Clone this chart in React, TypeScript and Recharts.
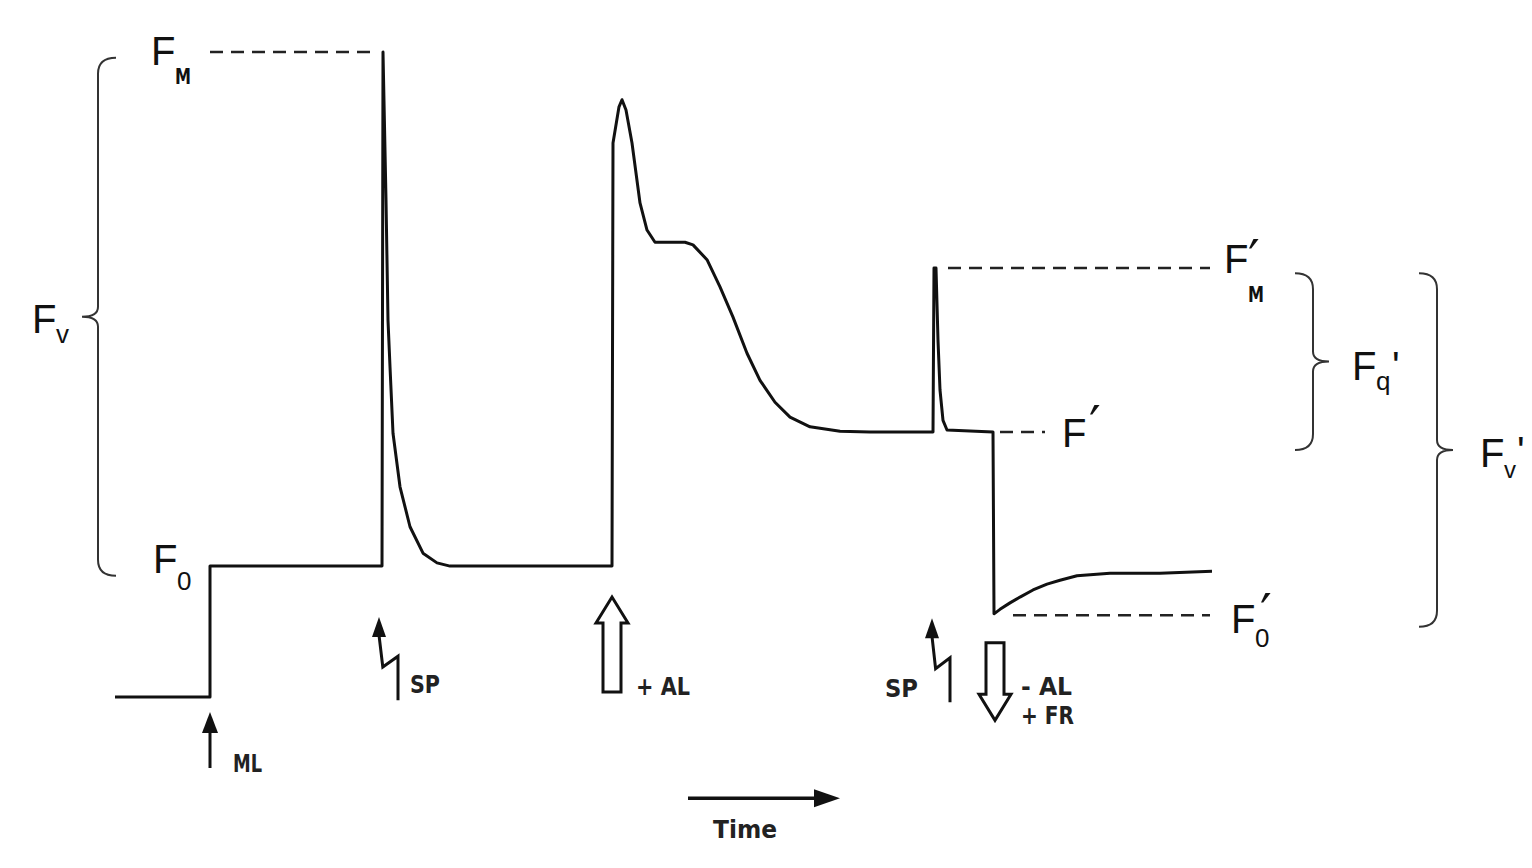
import { LineChart, Line, XAxis, YAxis, ReferenceLine, ReferenceDot } from "recharts";

// Chlorophyll fluorescence trace (time in arbitrary units, fluorescence relative to FM = 100)
const TRACE: [number, number][] = [
  [0, 0], [9.5, 0], [9.5, 20.3], [26.7, 20.3],
  // saturating pulse 1
  [26.8, 100], [27.1, 77.1], [27.3, 58.4], [27.5, 51.2], [27.8, 40.9], [28.5, 32.6],
  [29.5, 26.4], [30.8, 22.3], [32.2, 20.8], [33.5, 20.3], [49.7, 20.3],
  // actinic light on
  [49.8, 85.9], [50.4, 91.5], [50.7, 92.6], [51.1, 91.0], [51.7, 85.9], [52.5, 76.6],
  [53.2, 72.4], [54.0, 70.5], [57.0, 70.5], [57.8, 70.1], [59.2, 67.8], [60.5, 63.6],
  [61.8, 58.9], [63.2, 53.3], [64.5, 49.1], [66.0, 45.7], [67.5, 43.4], [69.5, 41.9],
  [72.5, 41.2], [75.5, 41.1], [81.8, 41.1],
  // saturating pulse 2
  [81.9, 66.5], [82.1, 66.5], [82.3, 55.3], [82.5, 47.6], [82.8, 42.9], [83.2, 41.4],
  [87.8, 41.1],
  // actinic off, far red on
  [87.9, 12.9], [88.5, 13.6], [89.5, 14.6], [90.5, 15.5], [91.8, 16.6], [93.2, 17.5],
  [94.5, 18.1], [96.2, 18.8], [99.5, 19.2], [104.5, 19.2], [109.7, 19.5],
];

const T_DOMAIN = [-11.5, 141.7];
const F_DOMAIN = [-26.5, 108.06];

// dashed level markers: [from, to, level]
const LEVELS: [number, number, number][] = [
  [9.5, 26.0, 100],
  [83.3, 109.5, 66.5],
  [88.5, 93.0, 41.1],
  [89.8, 109.5, 12.7],
];

// braces: [time, top, bottom, direction of tip]
const BRACES: [number, number, number, number][] = [
  [-1.7, 99.1, 18.8, -1],
  [119.8, 65.7, 38.3, 1],
  [132.2, 65.7, 10.9, 1],
];

// symbol labels
const SYMBOLS = [
  { t: 3.6, f: 98.0, sub: "M", subDx: 24, subDy: 19, subSize: 22, bold: true, prime: "", pDx: 0, pDy: 0 },
  { t: 3.8, f: 19.2, sub: "0", subDx: 24, subDy: 17, subSize: 26, bold: false, prime: "", pDx: 0, pDy: 0 },
  { t: -8.3, f: 56.4, sub: "v", subDx: 24, subDy: 10, subSize: 26, bold: false, prime: "", pDx: 0, pDy: 0 },
  { t: 94.7, f: 38.8, sub: "", subDx: 0, subDy: 0, subSize: 26, bold: false, prime: "′", pDx: 27, pDy: -4 },
  { t: 110.9, f: 65.7, sub: "M", subDx: 24, subDy: 29, subSize: 22, bold: true, prime: "′", pDx: 24, pDy: 4 },
  { t: 111.6, f: 9.9, sub: "0", subDx: 24, subDy: 14, subSize: 26, bold: false, prime: "′", pDx: 29, pDy: -2 },
  { t: 123.7, f: 49.1, sub: "q", subDx: 24, subDy: 10, subSize: 26, bold: false, prime: "'", pDx: 40, pDy: 0 },
  { t: 136.5, f: 35.7, sub: "v", subDx: 24, subDy: 11, subSize: 24, bold: false, prime: "'", pDx: 37, pDy: -2 },
];

// small text labels: [time, fluorescence, text, anchor, width]
const NOTES: [number, number, string, string, number][] = [
  [11.8, -11.6, "ML", "start", 29],
  [29.5, 0.6, "SP", "start", 30],
  [52.1, 0.3, "+ AL", "start", 54],
  [77.0, 0.0, "SP", "start", 33],
  [90.6, 0.3, "- AL", "start", 51],
  [90.6, -4.2, "+ FR", "start", 53],
  [63.0, -21.9, "Time", "middle", 64],
];

// arrows: [t1, f1, t2, f2] tail -> tip
const ML_ARROW = [9.5, -11.0, 9.5, -2.3];
const TIME_ARROW = [57.3, -15.7, 72.5, -15.7];
const SP_ARROWS = [
  [28.3, -0.5, 26.4, 12.4],
  [83.5, -0.8, 81.7, 12.2],
];
const HOLLOW_ARROWS = [
  [49.7, 0.8, 49.7, 15.5],
  [88.0, 8.4, 88.0, -3.6],
];

const BIG_FONT = '"Liberation Sans", Arial, sans-serif';
const BOLD_FONT = '"DejaVu Sans", "Liberation Sans", sans-serif';
const INK = "#111";

const data = TRACE.map(([t, f]) => ({ t, f }));

function Brace(props: any) {
  const { x1, y1, y2, dir } = props;
  const x = x1;
  const top = Math.min(y1, y2);
  const bot = Math.max(y1, y2);
  const mid = (top + bot) / 2;
  const hook = 18;
  const tip = 16;
  const r = 16;
  const r2 = 10;
  const d =
    `M ${x - dir * hook} ${top} Q ${x} ${top} ${x} ${top + r} L ${x} ${mid - r2} ` +
    `Q ${x} ${mid} ${x + dir * tip} ${mid} Q ${x} ${mid} ${x} ${mid + r2} ` +
    `L ${x} ${bot - r} Q ${x} ${bot} ${x - dir * hook} ${bot}`;
  return <path d={d} fill="none" stroke="#333" strokeWidth={2} />;
}

function SolidArrow(props: any) {
  const { x1, y1, x2, y2, head, half, width } = props;
  const len = Math.hypot(x2 - x1, y2 - y1);
  const ux = (x2 - x1) / len;
  const uy = (y2 - y1) / len;
  const bx = x2 - ux * head;
  const by = y2 - uy * head;
  const px = -uy;
  const py = ux;
  return (
    <g>
      <line x1={x1} y1={y1} x2={bx} y2={by} stroke={INK} strokeWidth={width} />
      <path
        d={`M ${x2} ${y2} L ${bx + px * half} ${by + py * half} L ${bx - px * half} ${by - py * half} Z`}
        fill={INK}
      />
    </g>
  );
}

function LightningArrow(props: any) {
  const { x1, y1, x2, y2 } = props;
  const h = y1 - y2;
  const w = x1 - x2;
  const k1 = y2 + 0.47 * h;
  const k2 = y2 + 0.6 * h;
  const head = 20;
  const half = 7;
  return (
    <g>
      <path
        d={`M ${x1} ${y1} L ${x1} ${k1} L ${x2 + 0.2 * w} ${k2} L ${x2} ${y2 + head - 2}`}
        fill="none"
        stroke={INK}
        strokeWidth={3}
        strokeLinejoin="miter"
      />
      <path d={`M ${x2} ${y2} L ${x2 - half} ${y2 + head} L ${x2 + half} ${y2 + head} Z`} fill={INK} />
    </g>
  );
}

function HollowArrow(props: any) {
  const { x1, y1, y2 } = props;
  const dir = y2 > y1 ? 1 : -1;
  const sw = 9;
  const hw = 16;
  const hl = 26;
  const x = x1;
  const yb = y2 - dir * hl;
  const d = `M ${x - sw} ${y1} L ${x - sw} ${yb} L ${x - hw} ${yb} L ${x} ${y2} L ${x + hw} ${yb} L ${x + sw} ${yb} L ${x + sw} ${y1} Z`;
  return <path d={d} fill="#fff" stroke={INK} strokeWidth={3} />;
}

function SymbolLabel(props: any) {
  const { cx, cy, spec } = props;
  return (
    <text x={cx} y={cy} fontFamily={BIG_FONT} fontSize={40} fill={INK}>
      <tspan>F</tspan>
      {spec.sub && (
        <tspan
          x={cx + spec.subDx}
          y={cy + spec.subDy}
          fontFamily={spec.bold ? BOLD_FONT : BIG_FONT}
          fontWeight={spec.bold ? 700 : 400}
          fontSize={spec.subSize}
          textLength={spec.bold ? 16 : undefined}
          lengthAdjust="spacingAndGlyphs"
        >
          {spec.sub}
        </tspan>
      )}
      {spec.prime && (
        <tspan
          x={cx + spec.pDx}
          y={cy + spec.pDy}
          fontFamily={spec.prime === "'" ? BIG_FONT : '"DejaVu Sans", sans-serif'}
          fontSize={spec.prime === "'" ? 40 : 52}
        >
          {spec.prime}
        </tspan>
      )}
    </text>
  );
}

function NoteLabel(props: any) {
  const { cx, cy, text, anchor, width } = props;
  return (
    <text
      x={cx}
      y={cy}
      textAnchor={anchor}
      fontFamily={BOLD_FONT}
      fontWeight={700}
      fontSize={25}
      fill="#222"
      textLength={width}
      lengthAdjust="spacingAndGlyphs"
    >
      {text}
    </text>
  );
}

export default function App() {
  return (
    <div style={{ position: "absolute", left: 0, top: 0, width: 1532, height: 868, background: "#fff" }}>
      <LineChart width={1532} height={868} data={data} margin={{ top: 0, right: 0, bottom: 0, left: 0 }}>
        <XAxis dataKey="t" type="number" domain={T_DOMAIN} allowDataOverflow hide />
        <YAxis dataKey="f" type="number" domain={F_DOMAIN} allowDataOverflow hide />

        {LEVELS.map(([from, to, level], i) => (
          <ReferenceLine
            key={`lv${i}`}
            segment={[{ x: from, y: level }, { x: to, y: level }]}
            stroke="#222"
            strokeWidth={2.5}
            strokeDasharray="13 8"
          />
        ))}

        <Line
          type="linear"
          dataKey="f"
          stroke={INK}
          strokeWidth={3}
          dot={false}
          activeDot={false}
          isAnimationActive={false}
          strokeLinejoin="round"
        />

        {BRACES.map(([t, top, bottom, dir], i) => (
          <ReferenceLine
            key={`br${i}`}
            segment={[{ x: t, y: top }, { x: t, y: bottom }]}
            shape={(p: any) => <Brace {...p} dir={dir} />}
          />
        ))}

        <ReferenceLine
          segment={[{ x: ML_ARROW[0], y: ML_ARROW[1] }, { x: ML_ARROW[2], y: ML_ARROW[3] }]}
          shape={(p: any) => <SolidArrow {...p} head={21} half={8} width={3} />}
        />
        <ReferenceLine
          segment={[{ x: TIME_ARROW[0], y: TIME_ARROW[1] }, { x: TIME_ARROW[2], y: TIME_ARROW[3] }]}
          shape={(p: any) => <SolidArrow {...p} head={26} half={9} width={3.5} />}
        />
        {SP_ARROWS.map((a, i) => (
          <ReferenceLine
            key={`sp${i}`}
            segment={[{ x: a[0], y: a[1] }, { x: a[2], y: a[3] }]}
            shape={(p: any) => <LightningArrow {...p} />}
          />
        ))}
        {HOLLOW_ARROWS.map((a, i) => (
          <ReferenceLine
            key={`ha${i}`}
            segment={[{ x: a[0], y: a[1] }, { x: a[2], y: a[3] }]}
            shape={(p: any) => <HollowArrow {...p} />}
          />
        ))}

        {SYMBOLS.map((s, i) => (
          <ReferenceDot key={`sy${i}`} x={s.t} y={s.f} r={0} shape={(p: any) => <SymbolLabel {...p} spec={s} />} />
        ))}
        {NOTES.map(([t, f, text, anchor, width], i) => (
          <ReferenceDot
            key={`nt${i}`}
            x={t}
            y={f}
            r={0}
            shape={(p: any) => <NoteLabel {...p} text={text} anchor={anchor} width={width} />}
          />
        ))}
      </LineChart>
    </div>
  );
}
